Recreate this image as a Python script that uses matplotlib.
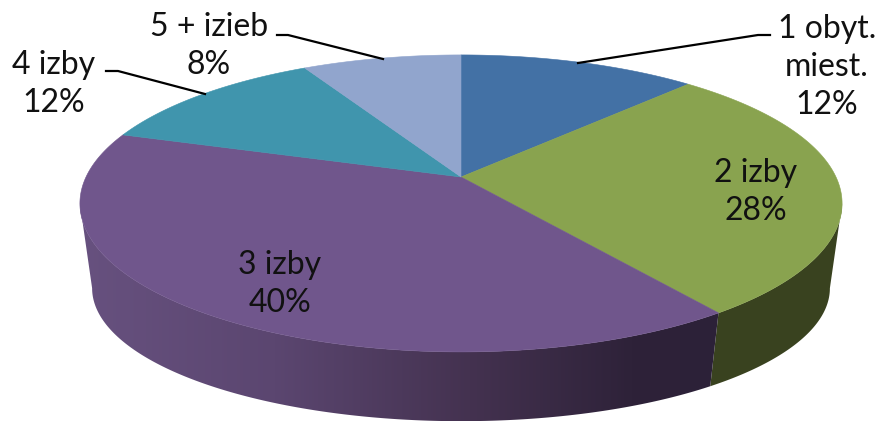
import numpy as np
import matplotlib
matplotlib.use("Agg")
import matplotlib.pyplot as plt
from matplotlib.colors import LinearSegmentedColormap
from matplotlib.patches import Polygon

plt.rcParams['font.family'] = ['Lato', 'DejaVu Sans']

# podiel bytov podla poctu izieb
categories = ["1 obyt.\nmiest.", "2 izby", "3 izby", "4 izby", "5 + izieb"]
values = [12, 28, 40, 12, 8]

colors = ["#4371a5", "#89a34f", "#70568c", "#4095ad", "#91a5cd"]

# top and bottom rim of the tilted disc: centre x, apex y, x scale, y scale
TOP = (461, 177, 375, 143.8)
BOTTOM = (461, 264.5, 363, 128.8)
PERSP = 0.178


def project(angle, plane):
    # clockwise angle from 12 o'clock -> pixel position with perspective
    cx, cy, a, b = plane
    u, v = np.sin(angle), np.cos(angle)
    w = 1 + PERSP * v
    return cx + a * u / w, cy - b * v / w


def arc(start, end, plane):
    x, y = project(np.linspace(start, end, 200), plane)
    return np.column_stack([x, y])


fig = plt.figure(figsize=(8.79, 4.21), dpi=100)
ax = fig.add_axes([0, 0, 1, 1])

edges = 2 * np.pi * np.cumsum([0] + values) / sum(values)
right_side = np.arctan2(np.sqrt(1 - PERSP**2), -PERSP)
left_side = 2 * np.pi - right_side

# side wall: dark green slice
wall = np.vstack([arc(right_side, edges[2], TOP), arc(edges[2], right_side, BOTTOM)])
ax.add_patch(Polygon(wall, closed=True, facecolor="#39421f", edgecolor="none", zorder=2))

# side wall: purple slice, darker towards the right
wall = np.vstack([arc(edges[2], left_side, TOP), arc(left_side, edges[2], BOTTOM)])
patch = Polygon(wall, closed=True, facecolor="none", edgecolor="none", zorder=2)
ax.add_patch(patch)
shade = LinearSegmentedColormap.from_list(
    "wall", [(0, "#67517f"), (0.3, "#5b4670"), (0.6, "#443250"), (0.85, "#2e2239"), (1, "#2c2138")])
img = ax.imshow(np.linspace(0, 1, 256).reshape(1, -1), cmap=shade, aspect="auto",
                extent=(80, 730, 425, 180), zorder=2)
img.set_clip_path(patch)

# top face
for i in range(len(values)):
    pts = np.vstack([[TOP[0], TOP[1]], arc(edges[i], edges[i + 1], TOP)])
    ax.add_patch(Polygon(pts, closed=True, facecolor=colors[i], edgecolor=colors[i],
                         linewidth=0.4, zorder=3))

# leader lines
ax.plot([770, 758, 578], [35, 35, 63], color="black", lw=1.6, zorder=4)
ax.plot([277, 288, 383], [35, 35, 59], color="black", lw=1.6, zorder=4)
ax.plot([106, 118, 205], [71, 71, 94], color="black", lw=1.6, zorder=4)

# popisky
label_pos = [(827, 67), (756, 192), (280, 284), (54, 84), (209, 46)]
for name, val, (x, y) in zip(categories, values, label_pos):
    ax.text(x, y, f"{name}\n{val}%", ha="center", va="center", fontsize=23,
            color="#111111", linespacing=1.33, zorder=5)

ax.set_xlim(0, 879)
ax.set_ylim(421, 0)
ax.axis("off")

fig.savefig("out.png", dpi=100)
